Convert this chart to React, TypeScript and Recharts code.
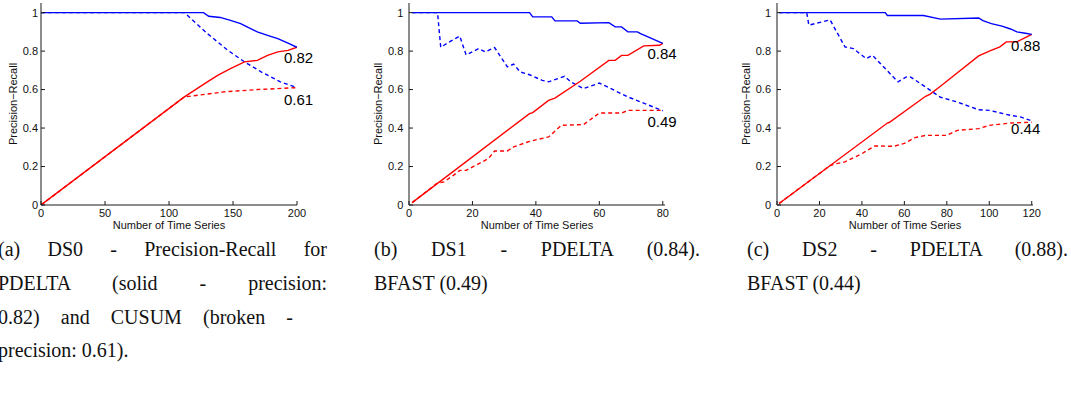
import React from 'react';
import { LineChart, Line, XAxis, YAxis, ReferenceDot } from 'recharts';

// (a) DS0 – PDELTA vs CUSUM
const ds0Ticks = [0, 50, 100, 150, 200];
const ds0PrecX = [0, 127, 131, 140, 148, 156, 161, 169, 177, 185, 193, 200];
const ds0Prec = [1, 1, 0.981, 0.975, 0.96, 0.943, 0.926, 0.9, 0.882, 0.865, 0.842, 0.82];
const ds0RecX = [0, 112, 130, 138, 148, 159, 169, 177, 185, 193, 200];
const ds0Rec = [0, 0.562, 0.64, 0.674, 0.709, 0.744, 0.752, 0.778, 0.796, 0.804, 0.82];
const ds0CusPrecX = [0, 112, 130, 146, 159, 172, 187, 200];
const ds0CusPrec = [1, 1, 0.891, 0.804, 0.744, 0.692, 0.64, 0.61];
const ds0CusRecX = [0, 112, 143, 169, 200];
const ds0CusRec = [0, 0.562, 0.588, 0.6, 0.61];

// (b) DS1 – PDELTA vs BFAST
const ds1Ticks = [0, 20, 40, 60, 80];
const ds1PrecX = [1, 38, 39, 45, 46, 53, 54, 63, 65, 67, 69, 72, 73, 80];
const ds1Prec = [1, 1, 0.978, 0.978, 0.957, 0.957, 0.945, 0.948, 0.926, 0.926, 0.9, 0.9, 0.891, 0.84];
const ds1RecX = [1, 38, 39, 44, 46, 54, 63, 65, 67, 69, 74, 79, 80];
const ds1Rec = [0.0125, 0.475, 0.48, 0.544, 0.556, 0.643, 0.752, 0.752, 0.778, 0.778, 0.827, 0.83, 0.84];
const ds1BfPrecX = [1, 9, 10, 13, 16, 18, 22, 24, 27, 31, 33, 35, 38, 42, 44, 49, 51, 55, 60, 69, 80];
const ds1BfPrec = [1, 1, 0.82, 0.85, 0.878, 0.78, 0.813, 0.796, 0.818, 0.718, 0.732, 0.692, 0.677, 0.648, 0.64, 0.669, 0.64, 0.605, 0.634, 0.562, 0.49];
const ds1BfRecX = [1, 9, 11, 14, 16, 18, 21, 25, 27, 31, 33, 38, 44, 48, 55, 60, 67, 69, 80];
const ds1BfRec = [0.0125, 0.115, 0.12, 0.154, 0.18, 0.18, 0.206, 0.241, 0.281, 0.281, 0.302, 0.331, 0.354, 0.414, 0.418, 0.478, 0.478, 0.492, 0.492];

// (c) DS2 – PDELTA vs BFAST
const ds2Ticks = [0, 20, 40, 60, 80, 100, 120];
const ds2PrecX = [1, 51, 52, 69, 77, 95, 97, 101, 106, 110, 113, 117, 120];
const ds2Prec = [1, 1, 0.985, 0.985, 0.966, 0.972, 0.958, 0.943, 0.93, 0.915, 0.9, 0.893, 0.887];
const ds2RecX = [1, 52, 53, 70, 72, 77, 95, 100, 105, 108, 113, 120];
const ds2Rec = [0.008, 0.426, 0.43, 0.565, 0.575, 0.617, 0.775, 0.8, 0.822, 0.848, 0.848, 0.887];
const ds2BfPrecX = [1, 14, 15, 25, 32, 36, 42, 45, 51, 57, 61, 63, 70, 77, 85, 95, 100, 110, 115, 120];
const ds2BfPrec = [1, 1, 0.935, 0.962, 0.822, 0.813, 0.761, 0.778, 0.709, 0.64, 0.666, 0.665, 0.613, 0.56, 0.535, 0.495, 0.492, 0.466, 0.457, 0.437];
const ds2BfRecX = [1, 25, 28, 32, 40, 46, 55, 60, 65, 70, 80, 85, 95, 100, 110, 120];
const ds2BfRec = [0.008, 0.205, 0.215, 0.224, 0.267, 0.307, 0.305, 0.32, 0.35, 0.362, 0.362, 0.388, 0.397, 0.414, 0.426, 0.43];

const yTicks = [0, 0.2, 0.4, 0.6, 0.8, 1];

const captionA = ['(a) DS0 - Precision-Recall for', 'PDELTA (solid - precision:', '0.82) and CUSUM (broken -', 'precision: 0.61).'];
const captionB = ['(b) DS1 - PDELTA (0.84).', 'BFAST (0.49)'];
const captionC = ['(c) DS2 - PDELTA (0.88).', 'BFAST (0.44)'];

const zip = (xs: number[], ys: number[]) => xs.map((x, i) => ({ x, y: ys[i] }));

const BLUE = '#0000ff';
const RED = '#ff0000';
const axisStroke = '#1a1a1a';
const tickStyle = { fontSize: 11, fill: '#111' };

type Note = { x: number; y: number; text: string; dx: number; dy: number };

const endLabel = (n: Note) => (props: any) => {
  const vb = props.viewBox || {};
  return (
    <text x={vb.x + n.dx} y={vb.y + n.dy} textAnchor="middle" dominantBaseline="central" fontSize={15} fill="#000">
      {n.text}
    </text>
  );
};

function Panel(props: {
  left: number;
  yAxisWidth: number;
  width: number;
  xMax: number;
  xTicks: number[];
  box: boolean;
  yTickMargin: number;
  labelOffset: number;
  solidPrec: { x: number; y: number }[];
  solidRec: { x: number; y: number }[];
  brokenPrec: { x: number; y: number }[];
  brokenRec: { x: number; y: number }[];
  notes: Note[];
}) {
  const p = props;
  return (
    <div style={{ position: 'absolute', left: p.left, top: 0 }}>
      <LineChart width={p.width} height={240} margin={{ top: 3, right: p.width - p.yAxisWidth - 256, bottom: 0, left: 0 }}>
        <XAxis
          dataKey="x"
          type="number"
          domain={[0, p.xMax]}
          allowDataOverflow
          ticks={p.xTicks}
          interval={0}
          height={35}
          tickSize={-4}
          tickMargin={8}
          tick={tickStyle}
          axisLine={{ stroke: axisStroke }}
          tickLine={{ stroke: axisStroke }}
          label={{ value: 'Number of Time Series', position: 'insideBottom', offset: 11, fontSize: 11, fill: '#111' }}
        />
        <YAxis
          type="number"
          domain={[0, 1.05]}
          allowDataOverflow
          ticks={yTicks}
          interval={0}
          width={p.yAxisWidth}
          tickSize={-4}
          tickMargin={p.yTickMargin}
          tick={tickStyle}
          axisLine={{ stroke: axisStroke }}
          tickLine={{ stroke: axisStroke }}
          label={{
            value: 'Precision−Recall',
            angle: -90,
            position: 'insideLeft',
            offset: p.labelOffset,
            fontSize: 11,
            fill: '#111',
            style: { textAnchor: 'middle' },
          }}
        />
        {p.box && (
          <XAxis
            xAxisId="top"
            orientation="top"
            type="number"
            domain={[0, p.xMax]}
            allowDataOverflow
            ticks={p.xTicks}
            interval={0}
            height={0}
            tick={false}
            tickSize={-4}
            axisLine={{ stroke: axisStroke }}
            tickLine={{ stroke: axisStroke }}
          />
        )}
        {p.box && (
          <YAxis
            yAxisId="right"
            orientation="right"
            type="number"
            domain={[0, 1.05]}
            allowDataOverflow
            ticks={yTicks}
            interval={0}
            width={0}
            tick={false}
            tickSize={-4}
            axisLine={{ stroke: axisStroke }}
            tickLine={{ stroke: axisStroke }}
          />
        )}
        <Line data={p.brokenPrec} dataKey="y" type="linear" stroke={BLUE} strokeWidth={1.4} strokeDasharray="4 3" dot={false} isAnimationActive={false} />
        <Line data={p.brokenRec} dataKey="y" type="linear" stroke={RED} strokeWidth={1.4} strokeDasharray="4 3" dot={false} isAnimationActive={false} />
        <Line data={p.solidRec} dataKey="y" type="linear" stroke={RED} strokeWidth={1.4} dot={false} isAnimationActive={false} />
        <Line data={p.solidPrec} dataKey="y" type="linear" stroke={BLUE} strokeWidth={1.4} dot={false} isAnimationActive={false} />
        {p.notes.map((n) => (
          <ReferenceDot key={n.text} x={n.x} y={n.y} r={0} fill="none" stroke="none" label={{ content: endLabel(n) }} />
        ))}
      </LineChart>
    </div>
  );
}

const captionFont = { fontFamily: '"Liberation Serif", "Times New Roman", serif', fontSize: 20, color: '#111', lineHeight: '22px' };

function CaptionLine({ text, left, top, width }: { text: string; left: number; top: number; width?: number }) {
  return (
    <div
      style={{
        ...captionFont,
        position: 'absolute',
        left,
        top,
        width: width ?? 'auto',
        whiteSpace: width ? 'normal' : 'nowrap',
        textAlign: width ? 'justify' : 'left',
        textAlignLast: width ? 'justify' : 'auto',
      }}
    >
      {text}
    </div>
  );
}

export default function App() {
  const lineTops = [238, 272, 306, 339];
  return (
    <div
      style={{
        position: 'absolute',
        left: 0,
        top: 0,
        width: 1071,
        height: 394,
        background: '#fff',
        overflow: 'hidden',
        fontFamily: '"Liberation Sans", Arial, sans-serif',
      }}
    >
      <Panel
        left={0}
        yAxisWidth={41}
        width={320}
        xMax={200}
        xTicks={ds0Ticks}
        box={false}
        yTickMargin={7}
        labelOffset={13}
        solidPrec={zip(ds0PrecX, ds0Prec)}
        solidRec={zip(ds0RecX, ds0Rec)}
        brokenPrec={zip(ds0CusPrecX, ds0CusPrec)}
        brokenRec={zip(ds0CusRecX, ds0CusRec)}
        notes={[
          { x: 200, y: 0.82, text: '0.82', dx: 1.5, dy: 10 },
          { x: 200, y: 0.61, text: '0.61', dx: 1.5, dy: 11.6 },
        ]}
      />
      <Panel
        left={360}
        yAxisWidth={49}
        width={330}
        xMax={80.7}
        xTicks={ds1Ticks}
        box={true}
        yTickMargin={9.7}
        labelOffset={18}
        solidPrec={zip(ds1PrecX, ds1Prec)}
        solidRec={zip(ds1RecX, ds1Rec)}
        brokenPrec={zip(ds1BfPrecX, ds1BfPrec)}
        brokenRec={zip(ds1BfRecX, ds1BfRec)}
        notes={[
          { x: 80, y: 0.84, text: '0.84', dx: -0.7, dy: 10 },
          { x: 80, y: 0.49, text: '0.49', dx: -0.7, dy: 10.5 },
        ]}
      />
      <Panel
        left={730}
        yAxisWidth={47}
        width={330}
        xMax={120.6}
        xTicks={ds2Ticks}
        box={true}
        yTickMargin={10}
        labelOffset={16}
        solidPrec={zip(ds2PrecX, ds2Prec)}
        solidRec={zip(ds2RecX, ds2Rec)}
        brokenPrec={zip(ds2BfPrecX, ds2BfPrec)}
        brokenRec={zip(ds2BfRecX, ds2BfRec)}
        notes={[
          { x: 120, y: 0.887, text: '0.88', dx: -6, dy: 11 },
          { x: 120, y: 0.437, text: '0.44', dx: -6, dy: 7.6 },
        ]}
      />
      <CaptionLine text={captionA[0]} left={-2} top={lineTops[0]} width={329} />
      <CaptionLine text={captionA[1]} left={-2} top={lineTops[1]} width={329} />
      <CaptionLine text={captionA[2]} left={-2} top={lineTops[2]} width={295} />
      <CaptionLine text={captionA[3]} left={-2} top={lineTops[3]} />
      <CaptionLine text={captionB[0]} left={374} top={lineTops[0]} width={326} />
      <CaptionLine text={captionB[1]} left={374} top={lineTops[1]} />
      <CaptionLine text={captionC[0]} left={747} top={lineTops[0]} width={321} />
      <CaptionLine text={captionC[1]} left={747} top={lineTops[1]} />
    </div>
  );
}
